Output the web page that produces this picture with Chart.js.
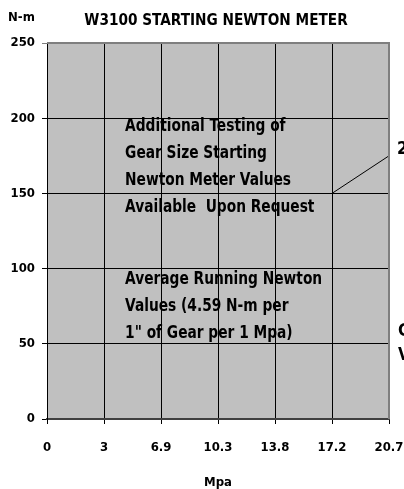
<!DOCTYPE html>
<html>
<head>
<meta charset="utf-8">
<script src="https://cdn.jsdelivr.net/npm/chart.js@4/dist/chart.umd.min.js"></script>
<style>
  html, body { margin: 0; padding: 0; background: #fff; }
  #wrap { width: 404px; height: 489px; }
</style>
</head>
<body>
<div id="wrap"><canvas id="myChart" width="404" height="489"></canvas></div>
<script>
'use strict'
// data
let pressureLabels = ['0', '3', '6.9', '10.3', '13.8', '17.2', '20.7'];
let leaderLine = [null, null, null, null, null, 150, 175];
let yMax = 250;
let yStep = 50;

let noteTesting = ['Additional Testing of', 'Gear Size Starting', 'Newton Meter Values', 'Available  Upon Request'];
let noteRunning = ['Average Running Newton', 'Values (4.59 N-m per', '1" of Gear per 1 Mpa)'];
let chartTitle = 'W3100 STARTING NEWTON METER';

const FONT = '"Liberation Sans Narrow", "DejaVu Sans Condensed", "Liberation Sans", sans-serif';

// squeeze text a bit so it looks like the narrow original face
function narrowText(c, text, x, y, squeeze) {
  c.save();
  c.translate(x, y);
  c.scale(squeeze, 1);
  c.fillText(text, 0, 0);
  c.restore();
}

// gray plot background + top/right border + free texts
const plotDecor = {
  id: 'plotDecor',
  beforeDraw(chart) {
    let c = chart.ctx;
    let a = chart.chartArea;
    c.save();
    c.fillStyle = '#c0c0c0';
    c.fillRect(a.left, a.top, a.right - a.left, a.bottom - a.top);
    c.restore();
  },
  afterDraw(chart) {
    let c = chart.ctx;
    let a = chart.chartArea;
    let x = chart.scales.x;
    let y = chart.scales.y;
    c.save();
    // top and right border
    c.strokeStyle = '#7f7f7f';
    c.lineWidth = 2;
    c.beginPath();
    c.moveTo(a.left, a.top);
    c.lineTo(a.right, a.top);
    c.lineTo(a.right, a.bottom);
    c.stroke();

    c.fillStyle = '#000';
    c.textBaseline = 'middle';
    // title and y unit
    c.font = 'bold 16px ' + FONT;
    c.textAlign = 'center';
    narrowText(c, chartTitle, (a.left + a.right) / 2 - 2, 21, 0.95);
    c.font = 'bold 13px ' + FONT;
    c.textAlign = 'left';
    c.fillText('N-m', 8, 18);

    // notes inside the plot
    c.font = 'bold 17px ' + FONT;
    c.textAlign = 'left';
    let nx = x.getPixelForValue(1.37);
    noteTesting.forEach((t, i) => narrowText(c, t, nx, y.getPixelForValue(194.5 - i * 18), 0.9));
    noteRunning.forEach((t, i) => narrowText(c, t, nx, y.getPixelForValue(92.5 - i * 18), 0.9));

    // cut-off labels at the right edge
    c.fillText('2', 397, y.getPixelForValue(179));
    c.fillText('C', 398, y.getPixelForValue(58));
    c.fillText('V', 398, y.getPixelForValue(42));
    c.restore();
  }
};

const ctx = document.getElementById('myChart');

new Chart(ctx, {
  type: 'line',
  data: {
    labels: pressureLabels,
    datasets: [{
      data: leaderLine,
      borderColor: '#000',
      borderWidth: 1,
      pointRadius: 0,
      spanGaps: false,
      clip: false
    }]
  },
  options: {
    responsive: false,
    animation: false,
    layout: { padding: { top: 43, right: 15, left: 0, bottom: 0 } },
    plugins: {
      legend: { display: false },
      title: { display: false },
      tooltip: { enabled: false }
    },
    scales: {
      x: {
        offset: false,
        afterFit(scale) {
          scale.height = 70;
          scale.paddingLeft = 0;
          scale.paddingRight = 0;
        },
        grid: {
          color: c => c.index === pressureLabels.length - 1 ? '#7f7f7f' : '#000',
          lineWidth: 1,
          tickLength: 5,
          tickColor: '#000'
        },
        border: { color: '#404040', width: 2 },
        ticks: {
          color: '#000',
          font: { family: FONT, size: 13, weight: 'bold' },
          padding: 16,
          maxRotation: 0,
          autoSkip: false
        },
        title: {
          display: true,
          text: 'Mpa',
          color: '#000',
          font: { family: FONT, size: 13, weight: 'bold', lineHeight: 1 },
          padding: { top: 10, bottom: 0 }
        }
      },
      y: {
        min: 0,
        max: yMax,
        afterFit(scale) { scale.width = 47; },
        grid: {
          color: c => c.tick.value === yMax ? '#7f7f7f' : '#000',
          lineWidth: 1,
          tickLength: 5
        },
        border: { color: '#000', width: 1 },
        ticks: {
          stepSize: yStep,
          color: '#000',
          font: { family: FONT, size: 13, weight: 'bold' },
          padding: 7
        }
      }
    }
  },
  plugins: [plotDecor]
});
</script>
</body>
</html>
